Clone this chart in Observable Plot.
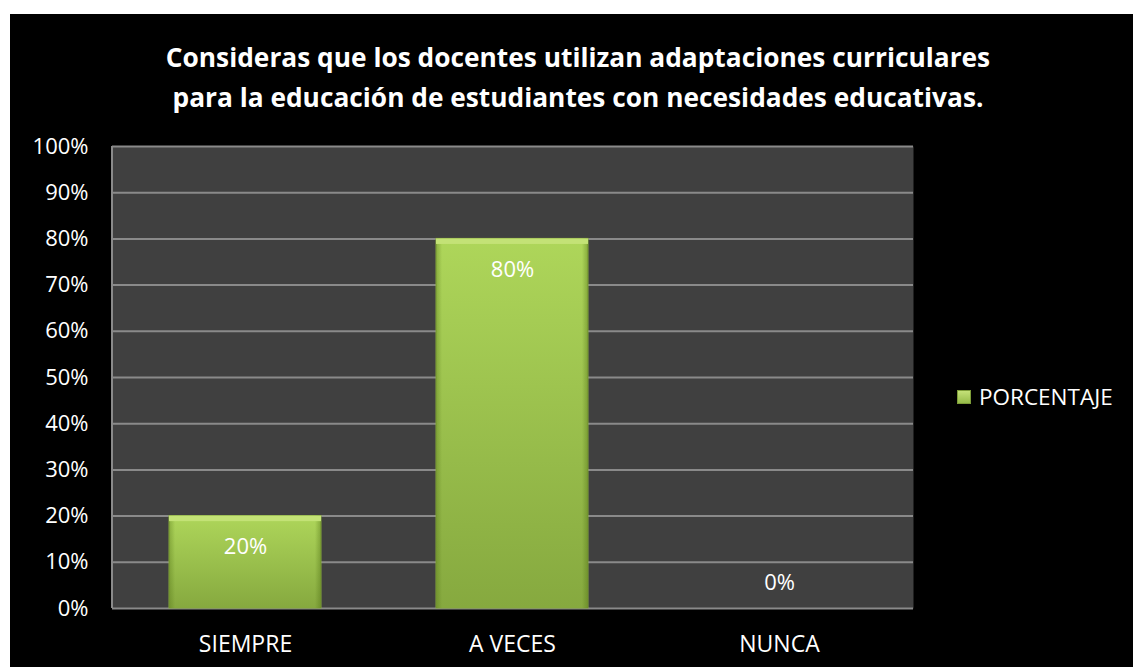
<!DOCTYPE html>
<html>
<head>
<meta charset="utf-8">
<script src="https://cdn.jsdelivr.net/npm/d3@7"></script>
<script src="https://cdn.jsdelivr.net/npm/@observablehq/plot@0.6"></script>
<style>
  html, body { margin: 0; padding: 0; background: #ffffff; }
  #card { position: absolute; left: 10px; top: 14px; width: 1123px; height: 653px; background: #000; overflow: hidden; font-family: "Open Sans", sans-serif; }
  #title { position: absolute; left: 0; top: 23px; width: 1136px; text-align: center; color: #fff; font-weight: 700; font-size: 26.3px; line-height: 40px; }
  #chart { position: absolute; left: 0; top: 100px; }
  #legend { position: absolute; left: 947px; top: 367px; color: #fff; font-size: 22.5px; display: flex; align-items: center; }
  #legend .sw { width: 14px; height: 14px; margin-right: 8px; background: linear-gradient(#c8e47c, #93b946); box-shadow: inset 0 0 0 1px #7d9c38; }
</style>
</head>
<body>
<div id="card">
  <div id="title">Consideras que los docentes utilizan adaptaciones curriculares<br>para la educación de estudiantes con necesidades educativas.</div>
  <div id="chart"></div>
  <div id="legend"><span class="sw"></span><span>PORCENTAJE</span></div>
</div>
<script>
const categories = ["SIEMPRE", "A VECES", "NUNCA"];
const values = [0.20, 0.80, 0.00];
const yTicks = [0, 0.1, 0.2, 0.3, 0.4, 0.5, 0.6, 0.7, 0.8, 0.9, 1.0];
const seriesName = "PORCENTAJE";

const data = categories.map((c, i) => ({ category: c, value: values[i] }));
const pct = d3.format(".0%");

const H = 553, MT = 32, MB = 59;
const chart = Plot.plot({
  width: 1123,
  height: H,
  marginLeft: 102,
  marginRight: 220,
  marginTop: MT,
  marginBottom: MB,
  style: { background: "transparent", color: "#fff", fontFamily: "Open Sans, sans-serif", fontSize: "20px", overflow: "visible" },
  x: { domain: categories, label: null, paddingInner: 0.43, paddingOuter: 0.215 },
  y: { domain: [0, 1], label: null },
  marks: [
    Plot.frame({ fill: "#404040", stroke: null }),
    Plot.ruleY(yTicks, { stroke: "#8a8a8a", strokeWidth: 2 }),
    Plot.barY(data, { x: "category", y: "value", fill: "url(#barGrad)", stroke: "#86a83c", strokeWidth: 1 }),
    Plot.barY(data, { x: "category", y: "value", fill: "url(#sideGrad)" }),
    Plot.barY(data.filter(d => d.value > 0), { x: "category", y1: "value", y2: d => d.value - 0.012, fill: "#c3e276" }),
    Plot.text(data.filter(d => d.value > 0), { x: "category", y: "value", text: d => pct(d.value), dy: 31, fill: "#fff", fontSize: 22 }),
    Plot.text(data.filter(d => d.value === 0), { x: "category", y: "value", text: d => pct(d.value), dy: -26, fill: "#fff", fontSize: 22 }),
    Plot.axisX({ tickSize: 0, tickPadding: 27, fontSize: 23 }),
    Plot.axisY({ ticks: yTicks, tickFormat: pct, tickSize: 0, tickPadding: 24, fontSize: 22 })
  ]
});

const ns = "http://www.w3.org/2000/svg";
const defs = document.createElementNS(ns, "defs");
defs.innerHTML = `<linearGradient id="barGrad" x1="0" y1="0" x2="0" y2="1">
  <stop offset="0" stop-color="#aed65a"/>
  <stop offset="1" stop-color="#86a93f"/>
</linearGradient>
<linearGradient id="sideGrad" x1="0" y1="0" x2="1" y2="0">
  <stop offset="0" stop-color="#4a6a10" stop-opacity="0.35"/>
  <stop offset="0.04" stop-color="#4a6a10" stop-opacity="0"/>
  <stop offset="0.96" stop-color="#4a6a10" stop-opacity="0"/>
  <stop offset="1" stop-color="#4a6a10" stop-opacity="0.4"/>
</linearGradient>`;
chart.insertBefore(defs, chart.firstChild);

const plotLeft = 102, plotTop = MT, plotBottom = H - MB;
const line = document.createElementNS(ns, "line");
line.setAttribute("x1", plotLeft); line.setAttribute("x2", plotLeft);
line.setAttribute("y1", plotTop); line.setAttribute("y2", plotBottom);
line.setAttribute("stroke", "#8a8a8a"); line.setAttribute("stroke-width", 2);
chart.appendChild(line);

document.getElementById("chart").appendChild(chart);
</script>
</body>
</html>
